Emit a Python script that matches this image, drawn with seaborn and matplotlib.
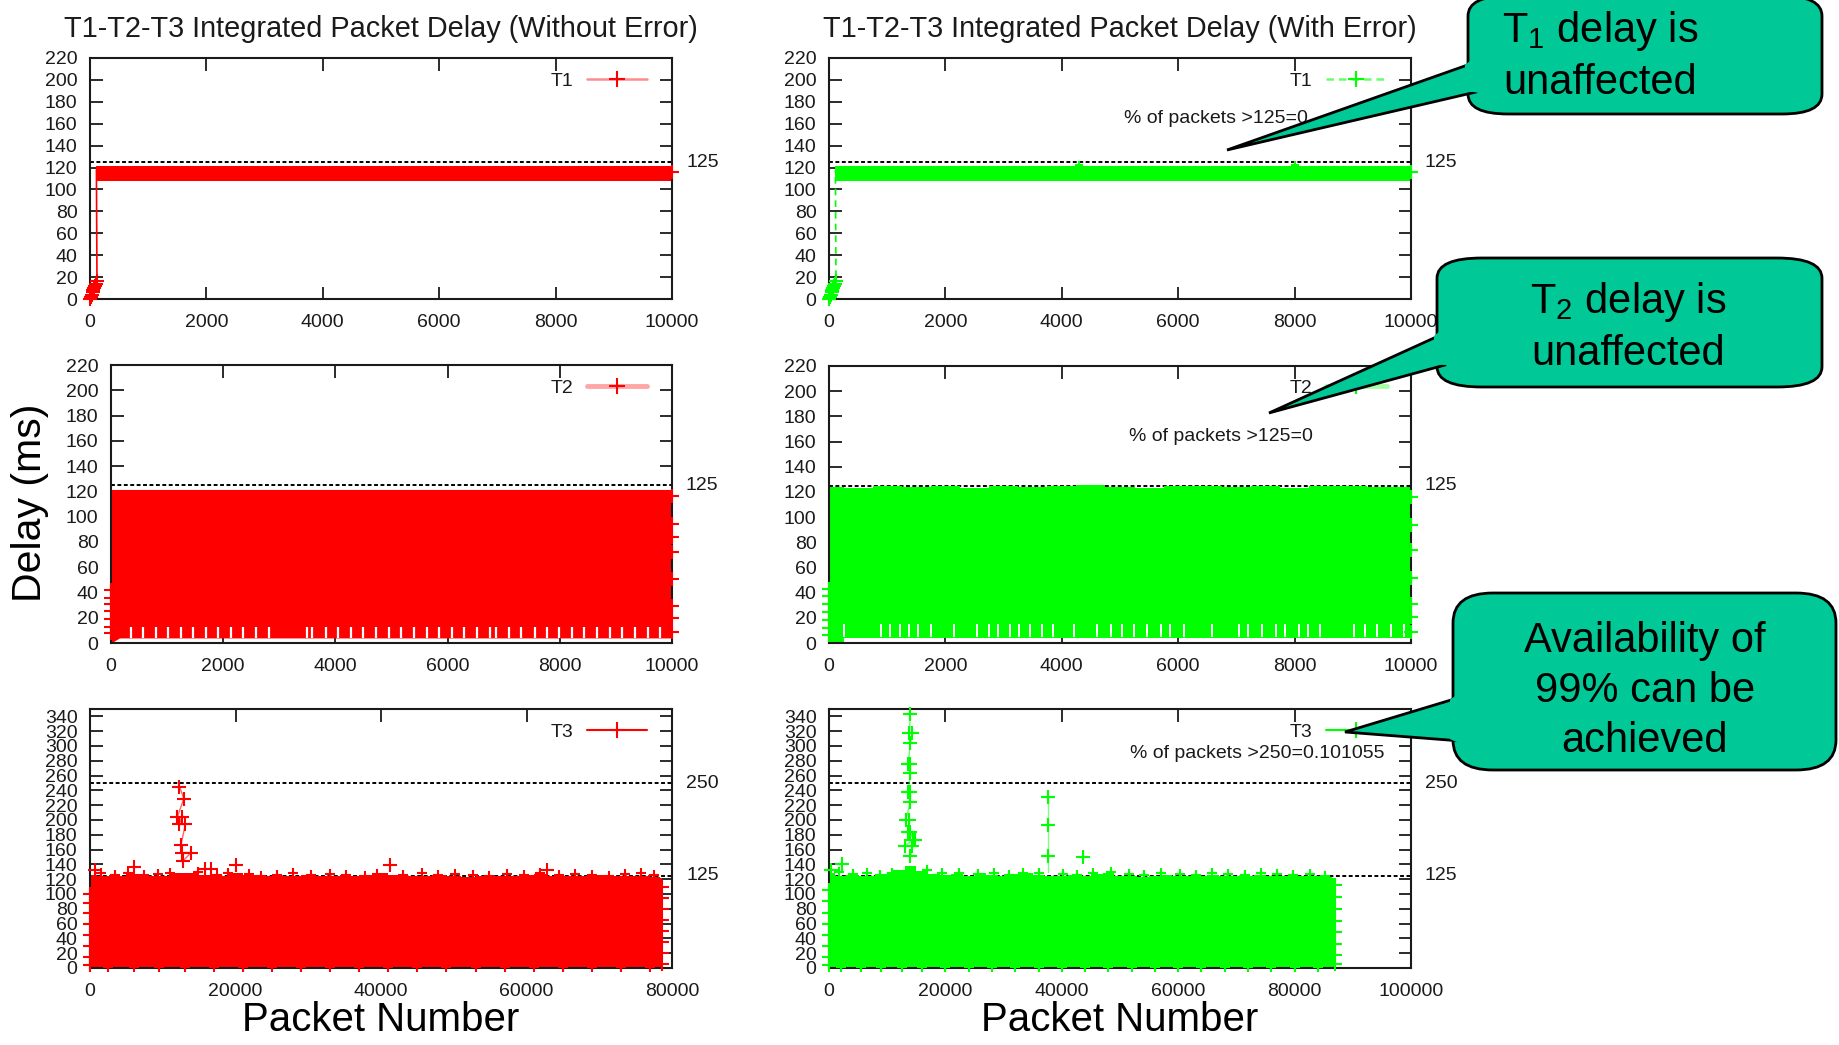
import numpy as np
import matplotlib
matplotlib.use("Agg")
import matplotlib.pyplot as plt
import seaborn as sns
from matplotlib.lines import Line2D
from matplotlib.patches import FancyBboxPatch, Polygon

# ---- values ----
# T1 (both runs): start-up ramp, the jump to the steady band, steady band envelope
t1_start_x = [0, 15, 30, 45, 60, 75, 90, 105, 120, 110]
t1_start_y = [0, 2, 4, 6, 8, 10, 12, 14, 16, 118]
t1_band_x = [110, 10000]
t1_band_lo = [108, 108]
t1_band_hi = [121, 121]
t1_end_x = [10000]
t1_end_y = [116]
t1e_bump_x = [4300, 8000]
t1e_bump_y = [122, 122]

# T2 without error
t2_band_x = [0, 150, 10000]
t2_band_lo = [0, 4, 4]
t2_band_hi = [121.5, 121.5, 121.5]
t2_left_y = [42, 36, 31, 25, 19, 13, 8]
t2_end_y = [116, 94, 84, 72, 51, 29, 20, 9]
t2_gaps = [357, 577, 803, 1022, 1248, 1468, 1694, 1914, 2140, 2360, 2586, 2812,
           3490, 3590, 3828, 4054, 4280, 4500, 4726, 4952, 5178, 5404, 5630, 5850,
           6076, 6296, 6522, 6757, 6864, 7093, 7314, 7560, 7765, 7994, 8215, 8436,
           8666, 8886, 9115, 9337, 9566, 9795]

# T2 with error
t2e_band_x = [0, 500, 1000, 1500, 2000, 2500, 3000, 3500, 4000, 4500, 5000,
              5500, 6000, 6500, 7000, 7500, 8000, 8500, 9000, 9500, 10000]
t2e_band_lo = [1, 4, 4, 4, 4, 4, 4, 4, 4, 4, 4, 4, 4, 4, 4, 4, 4, 4, 4, 4, 4]
t2e_band_hi = [124, 123.5, 125, 124, 124.5, 123.5, 125, 124, 124.5, 125.5, 124,
               123.5, 124.5, 125, 124, 124.5, 123.5, 124.5, 125, 124, 124]
t2e_left_y = [43, 37, 31, 25, 18, 12, 6]
t2e_end_y = [116, 94, 74, 52, 31, 21, 9]
t2e_gaps = [263, 893, 1051, 1225, 1383, 1524, 1761, 2156, 2550, 2747, 2906, 3103,
            3260, 3457, 3654, 3852, 4206, 4601, 4838, 5035, 5232, 5469, 5706, 5864,
            6100, 6574, 7047, 7205, 7441, 7678, 7835, 8072, 8230, 8428, 9019, 9216,
            9414, 9651, 9887]

# T3 without error (80000 packets)
t3_band_x = [0, 2000, 4000, 6000, 8000, 10000, 12000, 14000, 16000, 18000, 20000,
             22000, 24000, 26000, 28000, 30000, 32000, 34000, 36000, 38000, 40000,
             42000, 44000, 46000, 48000, 50000, 52000, 54000, 56000, 58000, 60000,
             62000, 64000, 66000, 68000, 70000, 72000, 74000, 76000, 78000, 78600]
t3_band_hi = [126, 124, 125, 127, 124, 125, 128, 129, 126, 125, 129, 126, 124, 125,
              124, 126, 125, 124, 125, 126, 128, 126, 125, 124, 126, 124, 123, 125,
              124, 125, 126, 127, 125, 124, 125, 126, 124, 125, 125, 123, 122]
t3_top_x = [1500, 3500, 5200, 7400, 9300, 11000, 14800, 17500, 19000, 21800, 23500,
            25700, 27900, 30400, 33000, 35200, 37800, 39500, 43000, 45600, 47800,
            50200, 52600, 54900, 57300, 59600, 61800, 64500, 66700, 69000, 71400,
            73600, 75800, 77500]
t3_top_y = [129, 126, 128, 126, 127, 128, 130, 126, 128, 127, 125, 126, 128, 126,
            127, 126, 125, 127, 126, 128, 126, 127, 126, 125, 127, 126, 128, 126,
            127, 126, 125, 127, 128, 126]
t3_spike_x = [12300, 12900, 12000, 12600, 12300, 13100, 12500, 12600, 13900,
              12800, 15800, 16600, 630, 6000, 20000, 41300, 62800]
t3_spike_y = [245, 229, 204, 204, 194, 194, 166, 156, 156, 145, 134, 134, 132,
              136, 139, 139, 133]
t3_left_y = [100, 88, 75, 60, 45, 30, 15, 4]
t3_end_y = [110, 95, 80, 65, 50, 35, 20, 6]
t3_bottom_x = [2500, 6000, 9500, 13000, 17000, 21000, 25000, 29000, 33000, 37000,
               41000, 45000, 49000, 53000, 57000, 61000, 65000, 69000, 73000, 77000]

# T3 with error (100000 axis)
t3e_band_x = [0, 2000, 4000, 6000, 8000, 10000, 12000, 14000, 16000, 18000, 20000,
              22000, 24000, 26000, 28000, 30000, 32000, 34000, 36000, 38000, 40000,
              42000, 44000, 46000, 48000, 50000, 52000, 54000, 56000, 58000, 60000,
              62000, 64000, 66000, 68000, 70000, 72000, 74000, 76000, 78000, 80000,
              82000, 84000, 86000, 87000]
t3e_band_hi = [128, 125, 126, 124, 125, 127, 133, 138, 131, 127, 126, 127, 125, 128,
               126, 125, 127, 128, 126, 125, 124, 126, 125, 127, 129, 125, 124, 123,
               125, 126, 124, 125, 124, 126, 125, 124, 125, 126, 124, 125, 124, 125,
               124, 123, 121]
t3e_top_x = [1800, 4200, 6500, 8800, 10800, 16800, 19500, 22400, 25600, 28300, 31000,
             33400, 36000, 40200, 42600, 45400, 48400, 51500, 54200, 57000, 60300,
             63000, 65800, 68600, 71500, 74300, 77000, 79800, 82600, 85300]
t3e_top_y = [130, 127, 128, 126, 129, 133, 128, 129, 127, 128, 126, 129, 128, 127,
             126, 128, 130, 127, 126, 128, 127, 126, 128, 127, 126, 128, 127, 126,
             127, 125]
t3e_spike_x = [14000, 13800, 14300, 14000, 13600, 14000, 14000, 13600, 14000, 14000,
               13200, 13800, 13600, 14000, 14500, 13000, 14200, 14700, 14000,
               37600, 37600, 37600, 43700, 400, 2200]
t3e_spike_y = [343, 317, 317, 304, 276, 276, 263, 238, 238, 225, 200, 200, 184, 184,
               173, 165, 165, 173, 152, 231, 193, 152, 150, 133, 140]
t3e_left_y = [105, 90, 75, 60, 45, 30, 15, 4]
t3e_end_y = [112, 96, 80, 64, 48, 32, 18, 6]
t3e_bottom_x = [2000, 5500, 9000, 12500, 16000, 20000, 24000, 28000, 32000, 36000,
                40000, 44000, 48000, 52000, 56000, 60000, 64000, 68000, 72000, 76000,
                80000, 84000]

RED = "#ff0000"
GREEN = "#00ff00"
TEAL = "#00c896"
INK = "#1a1a1a"

W, H = 1839, 1045
sns.set_style("ticks")
plt.rcParams["font.family"] = ["Liberation Sans", "DejaVu Sans"]
plt.rcParams["mathtext.fontset"] = "custom"
plt.rcParams["mathtext.rm"] = "Liberation Sans"
plt.rcParams["mathtext.default"] = "regular"

fig = plt.figure(figsize=(W / 100, H / 100), dpi=100)


def place(l, t, r, b):
    return fig.add_axes([l / W, 1 - b / H, (r - l) / W, (b - t) / H])


def frame(ax, xmax, xstep, ytop, ymax):
    ax.set_xlim(0, xmax)
    ax.set_ylim(0, ymax)
    ax.set_xticks(np.arange(0, xmax + 1, xstep))
    ax.set_yticks(np.arange(0, ytop + 1, 20))
    ax.tick_params(direction="in", length=9, width=1.3, top=True, right=True,
                   labelsize=14, pad=9, labelcolor=INK, color=INK)
    ax.tick_params(axis="x", pad=11)
    for s in ax.spines.values():
        s.set_linewidth(1.5)
        s.set_color(INK)
        s.set_zorder(3)


def threshold(ax, y):
    ax.axhline(y, color="black", lw=1.4, ls=(0, (2, 1.3)), zorder=0.8)
    ax.annotate(str(y), xy=(1, y), xycoords=("axes fraction", "data"),
                xytext=(14, 0), textcoords="offset pixels", ha="left", va="center",
                fontsize=14, color=INK, annotation_clip=False)


def key(ax, handle, label, xr, yc):
    ax.legend([handle], [label], loc="center right", bbox_to_anchor=(xr, yc),
              frameon=False, markerfirst=False, handlelength=3.1, handletextpad=0.7,
              borderpad=0, borderaxespad=0, fontsize=14, numpoints=1,
              labelcolor=INK)


def pluses(ax, x, y, color, s=100):
    sns.scatterplot(x=x, y=y, marker="+", s=s, color=color, linewidth=1.5,
                    ax=ax, clip_on=False, zorder=4, legend=False)


def proxy(color, line_rgba, ls="-", lw=1.8):
    return Line2D([], [], color=line_rgba, lw=lw, ls=ls, marker="+", ms=12,
                  mec=color, mew=1.5)


ax1 = place(90, 58, 672, 299)
ax2 = place(829, 58, 1411, 299)
ax3 = place(111, 365, 672, 643)
ax4 = place(829, 366, 1411, 643)
ax5 = place(90, 709, 672, 968)
ax6 = place(829, 709, 1411, 968)

for ax in (ax1, ax2, ax3, ax4):
    frame(ax, 10000, 2000, 220, 220)
frame(ax5, 80000, 20000, 340, 350)
frame(ax6, 100000, 20000, 340, 350)

# --- T1 ---
for ax, col, ls in ((ax1, RED, "-"), (ax2, GREEN, (0, (4, 3)))):
    threshold(ax, 125)
    ax.fill_between(t1_band_x, t1_band_lo, t1_band_hi, color=col, lw=0)
    ax.plot(t1_start_x, t1_start_y, color=col, lw=1.2, ls=ls, clip_on=False)
    pluses(ax, t1_start_x[:-1], t1_start_y[:-1], col)
    pluses(ax, t1_end_x, t1_end_y, col)
pluses(ax2, t1e_bump_x, t1e_bump_y, GREEN, s=30)
key(ax1, proxy(RED, (1, 0, 0, 0.45)), "T1", 0.9575, 0.905)
key(ax2, proxy(GREEN, (0, 1, 0, 0.6), ls=(0, (3, 2))), "T1", 0.957, 0.905)
ax2.text(8230, 165, "% of packets >125=0", ha="right", va="center", fontsize=14, color=INK)

# --- T2 ---
threshold(ax3, 125)
ax3.fill_between(t2_band_x, t2_band_lo, t2_band_hi, color=RED, lw=0)
ax3.vlines(t2_gaps, 4, 13, color="white", lw=1.6, zorder=1.2)
pluses(ax3, [0] * len(t2_left_y), t2_left_y, RED)
pluses(ax3, [10000] * len(t2_end_y), t2_end_y, RED)
key(ax3, proxy(RED, (1, 0, 0, 0.35), lw=3.5), "T2", 0.956, 0.917)

threshold(ax4, 125)
ax4.fill_between(t2e_band_x, t2e_band_lo, t2e_band_hi, color=GREEN, lw=0, step="mid")
ax4.vlines(t2e_gaps, 5, 15, color="white", lw=1.4, zorder=1.2)
pluses(ax4, [0] * len(t2e_left_y), t2e_left_y, GREEN)
pluses(ax4, [10000] * len(t2e_end_y), t2e_end_y, GREEN)
key(ax4, proxy(GREEN, (0, 1, 0, 0.35), lw=3.5), "T2", 0.958, 0.92)
ax4.text(8310, 164, "% of packets >125=0", ha="right", va="center", fontsize=14, color=INK)

# --- T3 ---
for ax in (ax5, ax6):
    threshold(ax, 250)
    threshold(ax, 125)
ax5.fill_between(t3_band_x, 0, t3_band_hi, color=RED, lw=0, step="mid")
ax5.plot(t3_spike_x[:10], t3_spike_y[:10], color=RED, lw=1, alpha=0.6)
pluses(ax5, t3_top_x, t3_top_y, RED, s=60)
pluses(ax5, t3_spike_x, t3_spike_y, RED)
pluses(ax5, [0] * len(t3_left_y), t3_left_y, RED)
pluses(ax5, [78600] * len(t3_end_y), t3_end_y, RED)
pluses(ax5, t3_bottom_x, [2] * len(t3_bottom_x), RED, s=60)
key(ax5, proxy(RED, RED, lw=1.5), "T3", 0.9575, 0.911)

ax6.fill_between(t3e_band_x, 0, t3e_band_hi, color=GREEN, lw=0, step="mid")
ax6.plot(t3e_spike_x[:19], t3e_spike_y[:19], color=GREEN, lw=1, alpha=0.6)
ax6.plot(t3e_spike_x[19:22] + [37600], t3e_spike_y[19:22] + [130], color=GREEN, lw=1, alpha=0.5)
pluses(ax6, t3e_top_x, t3e_top_y, GREEN, s=60)
pluses(ax6, t3e_spike_x, t3e_spike_y, GREEN)
pluses(ax6, [0] * len(t3e_left_y), t3e_left_y, GREEN)
pluses(ax6, [87000] * len(t3e_end_y), t3e_end_y, GREEN)
pluses(ax6, t3e_bottom_x, [2] * len(t3e_bottom_x), GREEN, s=60)
key(ax6, proxy(GREEN, GREEN, lw=1.5), "T3", 0.957, 0.911)
ax6.text(95530, 290, "% of packets >250=0.101055", ha="right", va="center",
         fontsize=14, color=INK)

# titles and big labels
ax1.set_title("T1-T2-T3 Integrated Packet Delay (Without Error)", fontsize=20.8, pad=15, color=INK)
ax2.set_title("T1-T2-T3 Integrated Packet Delay (With Error)", fontsize=20.8, pad=15, color=INK)
fig.text(30 / W, 1 - 503 / H, "Delay (ms)", rotation=90, ha="center", va="center",
         fontsize=29.5, color="black")
fig.text(381 / W, 1 - 1031 / H, "Packet Number", ha="center", va="baseline",
         fontsize=29, color="black")
fig.text(1120 / W, 1 - 1031 / H, "Packet Number", ha="center", va="baseline",
         fontsize=29, color="black")

# callouts, drawn in figure pixel space
ov = fig.add_axes([0, 0, 1, 1])
ov.set_xlim(0, W)
ov.set_ylim(H, 0)
ov.axis("off")
ov.set_zorder(10)

callouts = [
    dict(box=(1468, -4, 1822, 114), tip=(1227, 150), base=(62, 92),
         lines=["T$_1$ delay is", "unaffected"], cx=1600, ys=[42, 94], r=40, asp=0.5),
    dict(box=(1437, 258, 1822, 387), tip=(1269, 413), base=(333, 365),
         lines=["T$_2$ delay is", "unaffected"], cx=1628, ys=[313, 365], r=45, asp=0.45),
    dict(box=(1453, 593, 1836, 770), tip=(1345, 732), base=(697, 741),
         lines=["Availability of", "99% can be", "achieved"], cx=1645,
         ys=[652, 702, 752], r=40, asp=0.75),
]


def edge_y(tip, x0, y0, x):
    return tip[1] + (y0 - tip[1]) * (x - tip[0]) / (x0 - tip[0])


for c in callouts:
    l, t, r, b = c["box"]
    tip = c["tip"]
    yu, yl = c["base"]
    ov.add_patch(FancyBboxPatch((l, t), r - l, b - t,
                                boxstyle=f"round,pad=0,rounding_size={c['r']}",
                                mutation_aspect=c["asp"], fc=TEAL, ec="black", lw=2,
                                zorder=1))
    ov.add_patch(Polygon([(l + 8, yu), tip, (l + 8, yl)], closed=True, fc=TEAL,
                         ec="black", lw=2, joinstyle="miter", zorder=2))
    xa, xb = l - 3, l + 10
    ov.add_patch(Polygon([(xa, edge_y(tip, l, yu, xa) + 1.6), (xb, edge_y(tip, l, yu, xb) - 3),
                          (xb, edge_y(tip, l, yl, xb) + 3), (xa, edge_y(tip, l, yl, xa) - 1.6)],
                         closed=True, fc=TEAL, ec="none", zorder=3))
    for s, y in zip(c["lines"], c["ys"]):
        ov.text(c["cx"], y, s, ha="center", va="baseline", fontsize=30, color="black",
                zorder=4)

fig.savefig("out.png", dpi=100, facecolor="white")
